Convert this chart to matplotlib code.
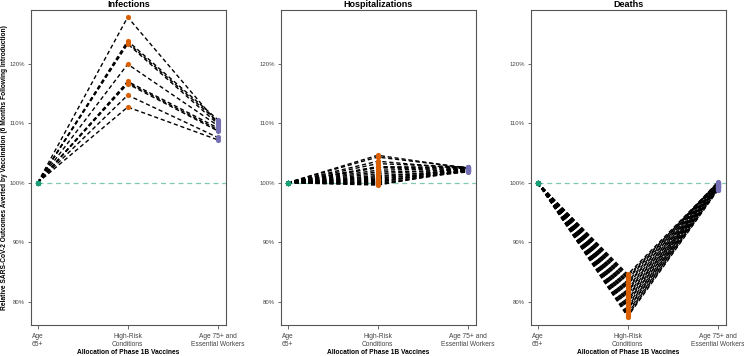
import matplotlib
matplotlib.use("Agg")
import matplotlib.pyplot as plt
from matplotlib.ticker import FuncFormatter

plt.rcParams['font.family'] = ['Liberation Sans', 'DejaVu Sans']

# categories on the x axis
groups = ["Age\n65+", "High-Risk\nConditions", "Age 75+ and\nEssential Workers"]
titles = ["Infections", "Hospitalizations", "Deaths"]

# relative outcomes (%) for each scenario: age 65+ is always the 100% reference
base = 100.0

hr_inf = [127.8, 123.8, 123.5, 123.3, 119.9, 117.0, 116.8, 116.6, 114.7, 112.7]
a75_inf = [110.0, 110.6, 110.3, 109.9, 109.6, 109.2, 108.9, 108.7, 107.6, 107.2]

hr_hosp = [104.6, 104.3, 103.6, 103.2, 102.7, 102.5, 102.1, 101.8, 101.5, 101.2,
           101.0, 100.8, 100.6, 100.4, 100.2, 100.0, 99.9, 99.7, 99.6, 102.6]
a75_hosp = [102.4, 102.5, 102.3, 102.6, 102.5, 102.2, 102.4, 102.1, 102.3, 102.0,
            102.2, 101.9, 102.1, 101.8, 102.0, 102.7, 101.9, 102.2, 102.1, 102.6]

hr_death = [84.6, 84.3, 84.0, 83.8, 83.4, 83.1, 82.9, 82.5, 82.2, 81.9, 81.7, 81.3,
            81.0, 80.8, 80.4, 80.1, 79.9, 79.5, 79.2, 78.9, 78.7, 78.3, 78.0, 77.7, 77.5]
a75_death = [100.0, 99.9, 100.1, 99.8, 100.0, 99.7, 99.9, 99.6, 99.8, 99.5, 99.7, 99.4,
             99.6, 99.3, 99.5, 99.2, 99.4, 99.1, 99.3, 99.0, 99.2, 98.9, 99.1, 98.8, 98.7]

panels = [(hr_inf, a75_inf), (hr_hosp, a75_hosp), (hr_death, a75_death)]

GREEN = "#1B9E77"
ORANGE = "#D95F02"
PURPLE = "#7570B3"
GREY = "#555555"

fig = plt.figure(figsize=(7.44, 3.56), dpi=100)
lefts = [31 / 744, 281 / 744, 531 / 744]
xs = [1, 2, 3]

for i, (hr, a75) in enumerate(panels):
    ax = fig.add_axes([lefts[i], 31 / 356, 195 / 744, 315 / 356])
    ax.set_xlim(0.926, 3.092)
    ax.set_ylim(76.1, 129.0)

    ax.hlines(base, 1, 3.092, colors=GREEN, linestyles=(0, (4, 3)), linewidth=0.9, alpha=0.55, zorder=1)

    for h, a in zip(hr, a75):
        ax.plot(xs, [base, h, a], color="black", linestyle=(0, (3, 2)), linewidth=1.0, zorder=2)

    ax.scatter([1] * len(hr), [base] * len(hr), s=14, color=GREEN, zorder=3, linewidths=0)
    ax.scatter([2] * len(hr), hr, s=14, color=ORANGE, zorder=3, linewidths=0)
    ax.scatter([3] * len(a75), a75, s=14, color=PURPLE, zorder=3, linewidths=0)

    ax.set_xticks(xs)
    ax.set_xticklabels(groups)
    ax.set_yticks([80, 90, 100, 110, 120])
    ax.yaxis.set_major_formatter(FuncFormatter(lambda v, p: "%d%%" % v))
    ax.tick_params(axis="both", colors=GREY, labelcolor="#444444", width=0.6)
    ax.tick_params(axis="x", labelsize=4.8, length=3, pad=3)
    ax.tick_params(axis="y", labelsize=4.3, length=2, pad=2.5)
    for sp in ax.spines.values():
        sp.set_color(GREY)
        sp.set_linewidth(0.8)

    ax.set_title(titles[i], fontsize=6.5, fontweight="bold", pad=2)
    ax.set_xlabel("Allocation of Phase 1B Vaccines", fontsize=4.8, fontweight="bold", va="center")
    ax.xaxis.set_label_coords(0.5, -0.086)
    if i == 0:
        ax.set_ylabel("Relative SARS-CoV-2 Outcomes Averted by Vaccination (6 Months Following Introduction)",
                      fontsize=4.8, fontweight="bold", va="center")
        ax.yaxis.set_label_coords(-0.135, 0.5)

fig.savefig("out.png", dpi=100)
